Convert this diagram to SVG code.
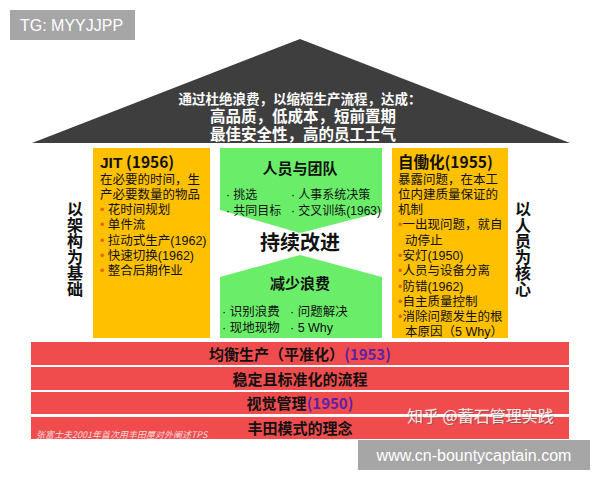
<svg xmlns="http://www.w3.org/2000/svg" width="600" height="480" viewBox="0 0 600 480">
<style>
text{font-family:"Noto Sans CJK SC","Liberation Sans",sans-serif;}
.w{fill:#fff;font-weight:bold;font-family:"Liberation Sans","Noto Sans CJK SC",sans-serif;}
.b{fill:#111;font-family:"Liberation Sans","Noto Sans CJK SC",sans-serif;}
.bd{fill:#111;font-weight:bold;}
.dot{fill:#e8620a;}
.yr{fill:#5b22a8;}
.bar{fill:#f04c4e;}
.grn{fill:#6aee6a;}
.yel{fill:#ffc000;}
.vt{writing-mode:vertical-rl;text-orientation:upright;font-size:16px;font-weight:bold;fill:#111;}
.lbl{font-family:"Liberation Sans",Arial,sans-serif;font-size:16px;fill:#fff;}
</style>
<rect width="600" height="480" fill="#fff"/>

<g id="roof">
<polygon points="32,143 300,39 570,143" fill="#3e3e3e"/>
<text class="w" x="300" y="104" font-size="13.5" text-anchor="middle">通过杜绝浪费，以缩短生产流程，达成：<tspan x="303" y="122" font-size="15.5">高品质，低成本，短前置期</tspan><tspan x="303" y="140" font-size="15.5">最佳安全性，高的员工士气</tspan></text>
</g>

<g id="left-label">
<text class="vt" x="75" y="201">以架构为基础</text>
</g>

<g id="right-label">
<text class="vt" x="523" y="201">以人员为核心</text>
</g>

<g id="jit">
<rect class="yel" x="93" y="148" width="117" height="190"/>
<text x="100" y="168" class="bd" font-size="15.5"><tspan font-family="Liberation Sans,sans-serif" font-weight="900">JIT</tspan> (1956)</text>
<text x="100" y="184" class="b" font-size="12.5">在必要的时间，生<tspan x="100" y="199">产必要数量的物品</tspan><tspan x="100" y="214"><tspan class="dot">•</tspan> 花时间规划</tspan><tspan x="100" y="229"><tspan class="dot">•</tspan> 单件流</tspan><tspan x="100" y="245"><tspan class="dot">•</tspan> 拉动式生产(1962)</tspan><tspan x="100" y="260"><tspan class="dot">•</tspan> 快速切换(1962)</tspan><tspan x="100" y="275"><tspan class="dot">•</tspan> 整合后期作业</tspan></text>
</g>

<g id="people">
<polygon class="grn" points="220,148 382,148 382,212 300,233 220,210"/>
<text x="300" y="174" class="bd" font-size="15" text-anchor="middle">人员与团队</text>
<text x="226" y="199" class="b" font-size="12">· 挑选<tspan x="226" y="215">· 共同目标</tspan><tspan x="291" y="199">· 人事系统决策</tspan><tspan x="291" y="215">· 交叉训练(1963)</tspan></text>
</g>

<g id="kaizen">
<text x="300" y="250" class="bd" font-size="20" text-anchor="middle">持续改进</text>
</g>

<g id="waste">
<polygon class="grn" points="300,255 382,277 382,338 220,338 220,277"/>
<text x="300" y="289" class="bd" font-size="15" text-anchor="middle">减少浪费</text>
<text x="222" y="316" class="b" font-size="12.5">· 识别浪费<tspan x="222" y="332">· 现地现物</tspan><tspan x="290" y="316">· 问题解决</tspan><tspan x="290" y="332">· 5 Why</tspan></text>
</g>

<g id="jidoka">
<rect class="yel" x="392" y="148" width="116" height="190"/>
<text x="398" y="168" class="bd" font-size="15.5">自働化(1955)</text>
<text x="398" y="184" class="b" font-size="12.5">暴露问题，在本工<tspan x="398" y="199">位内建质量保证的</tspan><tspan x="398" y="214">机制</tspan><tspan x="398" y="229"><tspan class="dot">•</tspan>一出现问题，就自</tspan><tspan x="405" y="245">动停止</tspan><tspan x="398" y="260"><tspan class="dot">•</tspan>安灯(1950)</tspan><tspan x="398" y="275"><tspan class="dot">•</tspan>人员与设备分离</tspan><tspan x="398" y="291"><tspan class="dot">•</tspan>防错(1962)</tspan><tspan x="398" y="306"><tspan class="dot">•</tspan>自主质量控制</tspan><tspan x="398" y="321"><tspan class="dot">•</tspan>消除问题发生的根</tspan><tspan x="405" y="336">本原因（5 Why）</tspan></text>
</g>

<g id="heijunka">
<rect class="bar" x="31" y="342" width="538" height="23"/>
<text x="300" y="360" class="bd" font-size="15" text-anchor="middle">均衡生产（平准化）<tspan class="yr">(1953)</tspan></text>
</g>
<g id="standard">
<rect class="bar" x="31" y="367" width="538" height="23"/>
<text x="300" y="385" class="bd" font-size="15" text-anchor="middle">稳定且标准化的流程</text>
</g>
<g id="visual">
<rect class="bar" x="31" y="392" width="538" height="22"/>
<text x="300" y="409" class="bd" font-size="15" text-anchor="middle">视觉管理<tspan class="yr">(1950)</tspan></text>
</g>
<g id="philosophy">
<rect class="bar" x="31" y="417" width="538" height="22"/>
<text x="300" y="434" class="bd" font-size="15" text-anchor="middle">丰田模式的理念</text>
<text x="36" y="438" font-size="9" font-style="italic" fill="#f8d8d8">张富士夫2001年首次用丰田屋对外阐述TPS</text>
</g>

<g id="watermark">
<text x="407" y="422" font-size="16" fill="#fff" opacity="0.85" style="text-shadow:1px 1px 0 rgba(90,90,90,0.6)">知乎 @蓄石管理实践</text>
</g>

<g id="tag-top">
<rect x="10" y="10" width="125" height="30" fill="#a6a6a6"/>
<text x="20" y="31" class="lbl">TG: MYYJJPP</text>
</g>
<g id="tag-bottom">
<rect x="358" y="440" width="232" height="30" fill="#a6a6a6"/>
<text x="474" y="461" class="lbl" text-anchor="middle">www.cn-bountycaptain.com</text>
</g>
</svg>
